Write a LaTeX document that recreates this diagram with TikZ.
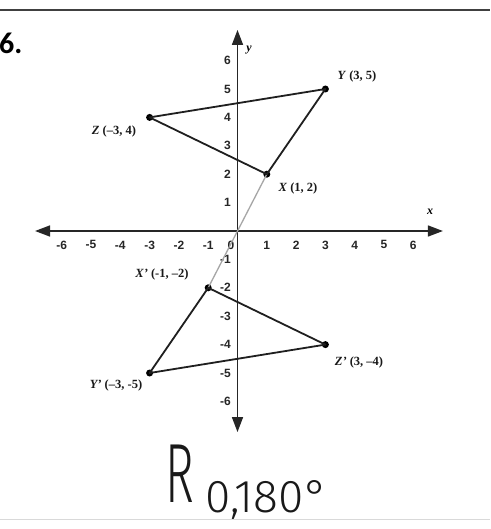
\documentclass[tikz,border=0pt]{standalone}
\usepackage{fontspec}
\setmainfont{Liberation Serif}
\setsansfont{Liberation Sans}
\newfontfamily\numfont{Carlito}
\newfontfamily\handfont{Fira Sans Light}
\usetikzlibrary{arrows.meta}
\tikzset{
  axisline/.style={line width=1.5pt, draw=black!85},
  axistips/.style={{Triangle[length=15pt,width=11pt]}-{Triangle[length=15pt,width=11pt]}},
  tri/.style={line width=1.8pt, draw=black!88, line join=round},
  dot/.style={circle, fill=black, inner sep=0pt, minimum size=7pt},
  ticklab/.style={font=\sffamily\bfseries\fontsize{12}{12}\selectfont, inner sep=0pt, text=black!85},
  ptlab/.style={font=\bfseries\fontsize{12.5}{12.5}\selectfont, inner sep=0pt, text=black!90},
  axlab/.style={font=\bfseries\itshape\fontsize{12}{12}\selectfont, inner sep=0pt},
  hand/.style={inner sep=0pt, text=black!90},
}
\begin{document}
\begin{tikzpicture}[x=1pt,y=-1pt]
\useasboundingbox (0,0) rectangle (490,529);
\fill[white] (0,0) rectangle (490,529);
% rules
\coordinate (rl) at (0,10); \coordinate (rr) at (490,10);
\draw[line width=1.6pt, black!75] (rl) -- (rr);
\coordinate (bl) at (0,519); \coordinate (br) at (490,519);
\draw[line width=1pt, black!15] (bl) -- (br);
% problem number
\node[font=\numfont\bfseries\fontsize{30}{30}\selectfont, anchor=west, inner sep=0pt] (num) at (-1,43) {6.};

\begin{scope}[shift={(237.5,231)}, x=29.3pt, y=28.4pt]
  \coordinate (xl) at (-6.91,0); \coordinate (xr) at (7.01,0);
  \coordinate (yb) at (0,-7.08); \coordinate (yt) at (0,7.08);
  \draw[axisline, axistips] (xl) -- (xr);
  \draw[axisline, axistips] (yb) -- (yt);
  \foreach \k in {-6,...,-1,1,2,...,6} {
    \node[ticklab] (xt\k) at (\k,-0.49) {\k};
    \node[ticklab, anchor=east] (yt\k) at (-0.22,\k) {\k};
  }
  \node[ticklab] (org) at (-0.22,-0.49) {0};
  % points
  \node[dot] (X) at (1,2) {};
  \node[dot] (Y) at (3,5) {};
  \node[dot] (Z) at (-3,4) {};
  \node[dot] (Xp) at (-1,-2) {};
  \node[dot] (Yp) at (-3,-5) {};
  \node[dot] (Zp) at (3,-4) {};
  \draw[black!35, line width=1.3pt] (X.center) -- (Xp.center);
  \draw[tri] (X.center) -- (Y.center) -- (Z.center) -- cycle;
  \draw[tri] (Xp.center) -- (Yp.center) -- (Zp.center) -- cycle;
\end{scope}

% axis names
\node[axlab] (xname) at (430,212) {x};
\node[axlab] (yname) at (249,50) {y};
% point labels
\node[ptlab] (lY) at (357,76) {\textit{Y} (3, 5)};
\node[ptlab] (lZ) at (114,131) {\textit{Z} (–3, 4)};
\node[ptlab] (lX) at (298,188) {\textit{X} (1, 2)};
\node[ptlab] (lXp) at (162,274) {\textit{X'} (-1, –2)};
\node[ptlab] (lZp) at (359,362) {\textit{Z'} (3, –4)};
\node[ptlab] (lYp) at (116,385) {\textit{Y'} (–3, -5)};
% handwriting
\node[hand, font=\handfont\fontsize{84}{84}\selectfont, xscale=0.58] (R) at (180,474) {R};
\node[hand, font=\handfont\fontsize{46}{46}\selectfont, anchor=west] (sub) at (205,500) {0,180°};
\end{tikzpicture}
\end{document}
